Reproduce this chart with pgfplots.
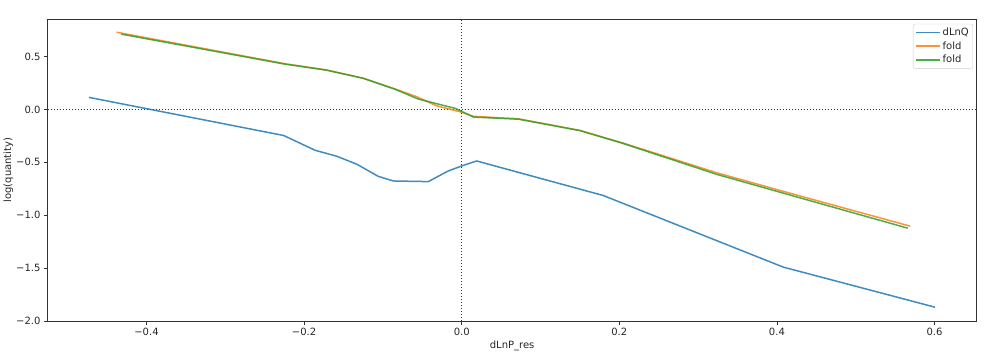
\documentclass[border=0pt]{standalone}
\usepackage{fontspec}
\setmainfont{DejaVu Sans}
\usepackage{pgfplots}
\pgfplotsset{compat=1.18}
\definecolor{mblue}{HTML}{1F77B4}
\definecolor{morange}{HTML}{FF7F0E}
\definecolor{mgreen}{HTML}{2CA02C}
\begin{document}
\begin{tikzpicture}
\begin{axis}[
  name=ax,
  scale only axis,
  width=929pt, height=302pt,
  xmin=-0.5256, xmax=0.6535,
  ymin=-2.0, ymax=0.855,
  xtick={-0.4,-0.2,0,0.2,0.4,0.6},
  xticklabels={−0.4,−0.2,0.0,0.2,0.4,0.6},
  ytick={-2,-1.5,-1,-0.5,0,0.5},
  yticklabels={−2.0,−1.5,−1.0,−0.5,0.0,0.5},
  tick align=outside,
  tick pos=left,
  major tick length=3.5pt,
  every tick/.style={black!80, line width=0.8pt},
  axis line style={black!80, line width=0.8pt},
  tick label style={font=\fontsize{10}{12}\selectfont, text=black!85},
  label style={font=\fontsize{10}{12}\selectfont, text=black!85},
  xlabel={dLnP\_res},
  ylabel={log(quantity)},
  xlabel style={yshift=2pt},
  ylabel style={yshift=-4pt},
  legend cell align=left,
  legend style={at={(rel axis cs:0.996,0.984)}, anchor=north east,
    draw=black!20, rounded corners=2pt, font=\fontsize{10}{12}\selectfont,
    inner sep=2pt, row sep=0.5pt, text=black!85},
  legend image code/.code={\draw[#1, line width=1.5pt] (0pt,0pt) -- (24pt,0pt);},
]
\addplot[forget plot, black!80, dotted, line width=1pt] coordinates {(-0.5256,0) (0.6535,0)};
\addplot[forget plot, black!80, dotted, line width=1pt] coordinates {(0,-2) (0,0.855)};
\addplot[mblue, line width=1.5pt, opacity=0.85] coordinates {
(-0.473,0.114) (-0.226,-0.246) (-0.186,-0.386) (-0.1586,-0.442) (-0.133,-0.518)
(-0.106,-0.632) (-0.0868,-0.676) (-0.0424,-0.682) (-0.017,-0.581) (0.0,-0.534)
(0.019,-0.487) (0.1795,-0.813) (0.408,-1.49) (0.6006,-1.869)};
\addlegendentry{dLnQ}
\addplot[morange, line width=1.5pt, opacity=0.85] coordinates {
(-0.438,0.730) (-0.224,0.432) (-0.172,0.374) (-0.125,0.296) (-0.085,0.195)
(-0.057,0.120) (-0.032,0.035) (-0.002,-0.022) (0.015,-0.065) (0.072,-0.088)
(0.150,-0.198) (0.205,-0.318) (0.323,-0.597) (0.410,-0.778) (0.569,-1.103)};
\addlegendentry{fold}
\addplot[mgreen, line width=1.5pt, opacity=0.85] coordinates {
(-0.432,0.712) (-0.224,0.428) (-0.172,0.372) (-0.125,0.294) (-0.085,0.192)
(-0.055,0.098) (-0.008,0.010) (0.015,-0.072) (0.072,-0.092) (0.150,-0.200)
(0.205,-0.322) (0.323,-0.612) (0.410,-0.795) (0.566,-1.122)};
\addlegendentry{fold}
\end{axis}
\pgfresetboundingbox
\path ([shift={(-47.5pt,-39pt)}]ax.south west) rectangle ([shift={(14.3pt,19pt)}]ax.north east);
\end{tikzpicture}
\end{document}
